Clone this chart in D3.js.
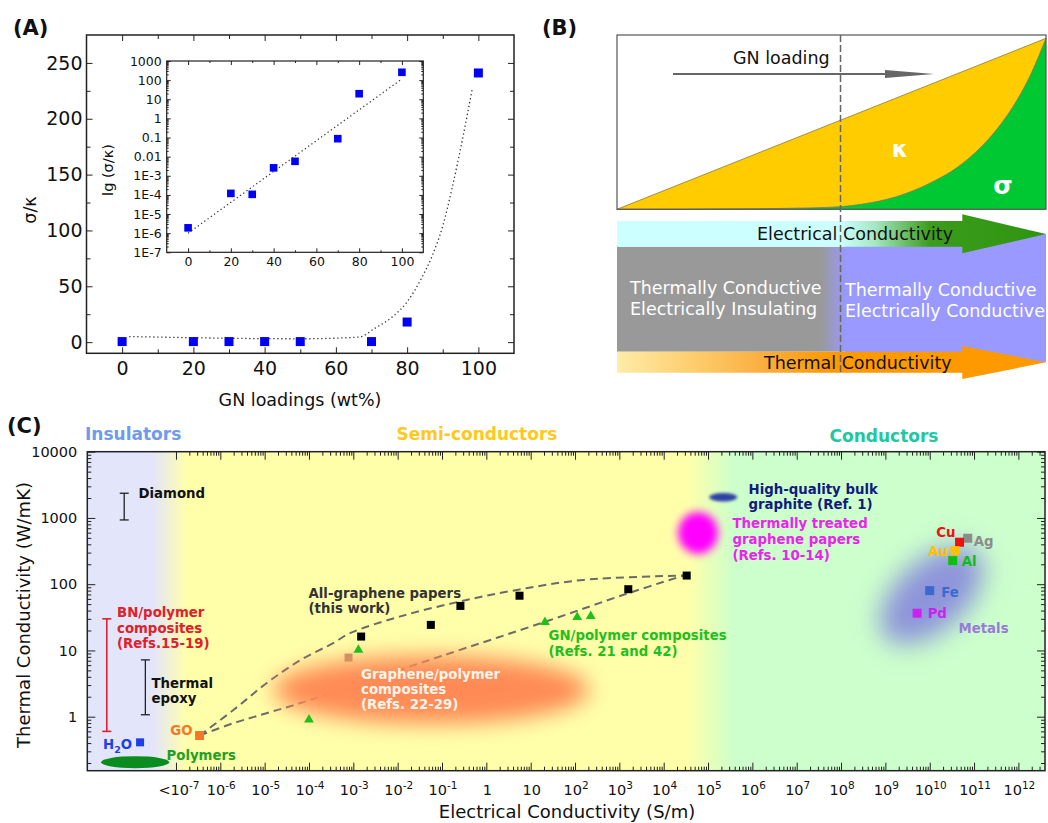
<!DOCTYPE html>
<html>
<head>
<meta charset="utf-8">
<script src="https://cdn.jsdelivr.net/npm/d3@7"></script>
<style>
  body { margin: 0; background: #fff; }
  svg { display: block; }
</style>
</head>
<body>
<svg id="fig" width="1048" height="823"></svg>
<script>
// ---------------- panel A data
const loadMain = [0, 20, 30, 40, 50, 70, 80, 100];
const ratioMain = [0.5, 0.5, 0.5, 0.5, 0.5, 0.5, 18, 241];
const fitMainX = [2, 50, 66.5, 71, 76, 80, 84, 87, 90, 92.7, 95.5, 98.3];
const fitMainY = [5, 3, 4.5, 12.5, 23, 36, 57, 77, 104, 139, 181, 227];
const mainXTicks = [0, 20, 40, 60, 80, 100];
const mainYTicks = [0, 50, 100, 150, 200, 250];

const loadInset = [0, 20, 30, 40, 50, 70, 80, 100];
const ratioInset = [1.9e-6, 1.2e-4, 1.07e-4, 2.6e-3, 5.7e-3, 0.087, 19.5, 257];
const fitInsetX = [0, 100];
const fitInsetY = [1e-6, 115];
const insetXTicks = [0, 20, 40, 60, 80, 100];
const insetYTicks = [1e-7, 1e-6, 1e-5, 1e-4, 1e-3, 1e-2, 1e-1, 1, 10, 100, 1000];
const insetYLabels = ["1E-7", "1E-6", "1E-5", "1E-4", "1E-3", "0.01", "0.1", "1", "10", "100", "1000"];

// ---------------- panel B (schematic, loading normalised 0..1)
const kappaX = [0, 1];
const kappaY = [0, 0.981];
const sigmaX = [0, 0.3, 0.45, 0.521, 0.573, 0.651, 0.729, 0.806, 0.884, 0.923, 0.962, 1];
const sigmaY = [0, 0.003, 0.008, 0.015, 0.03, 0.072, 0.149, 0.264, 0.455, 0.589, 0.761, 0.981];
const thresholdX = 0.521;

// ---------------- panel C data  (sigma in S/m, kappa in W/mK)
const paperSigma = [1.5e-3, 0.056, 0.26, 5.6, 1590, 3.3e4];
const paperKappa = [16.2, 24.3, 47, 67, 84, 135];
const gnSigma = [1e-4, 1.3e-3, 21, 112, 226];
const gnKappa = [0.9, 10.2, 26.7, 31.8, 33];
const upperSigma = [3.4e-7, 2e-6, 1.1e-5, 6.3e-5, 3.5e-4, 8.4e-4, 1.1e-2, 0.25, 4.9, 154, 2.8e4];
const upperKappa = [0.52, 1.27, 3.2, 7.1, 12.9, 18.2, 32.4, 54.7, 82, 116, 135];
const lowerSigma = [3.4e-7, 2e-6, 1.1e-5, 6.3e-5, 2.4e-3, 0.09, 21, 1585, 2.8e4];
const lowerKappa = [0.52, 0.8, 1.13, 1.6, 3.6, 8.1, 27, 73, 135];
const metalNames = ["Ag", "Cu", "Au", "Al", "Fe", "Pd"];
const metalSigma = [7.2e10, 4.7e10, 3.7e10, 3.3e10, 1.0e10, 5.2e9];
const metalKappa = [494, 430, 321, 227, 80, 36.5];
const barNames = ["Diamond", "BN", "Epoxy"];
const barSigma = [6.8e-9, 2.75e-9, 2.04e-8];
const barLow = [933, 0.6, 1.07];
const barHigh = [2360, 30, 7.2];
const h2o = [1.55e-8, 0.41];
const go = [3.4e-7, 0.52];
const fadedSq = [7.8e-4, 7.8];
const polymerCentre = [1.2e-8, 0.206];
const blobNames = ["graphenePolymer", "treatedPaper", "bulkGraphite", "metals"];
const blobSigma = [0.0565, 5.96e4, 2.2e5, 1.1e10];
const blobKappa = [2.55, 594, 2050, 68];
const cDecades = [-7, -6, -5, -4, -3, -2, -1, 0, 1, 2, 3, 4, 5, 6, 7, 8, 9, 10, 11, 12];
const cYTicks = [1, 10, 100, 1000, 10000];

const FONT = "DejaVu Sans, Liberation Sans, sans-serif";
const svg = d3.select("#fig").attr("font-family", FONT);
const defs = svg.append("defs");

function grad(id, x1, x2, stops) {
  const g = defs.append("linearGradient").attr("id", id)
    .attr("gradientUnits", "userSpaceOnUse")
    .attr("x1", x1).attr("x2", x2).attr("y1", 0).attr("y2", 0);
  stops.forEach(s => g.append("stop").attr("offset", s[0]).attr("stop-color", s[1]));
}
function blur(id, sd) {
  defs.append("filter").attr("id", id)
    .attr("x", "-100%").attr("y", "-100%").attr("width", "300%").attr("height", "300%")
    .append("feGaussianBlur").attr("stdDeviation", sd);
}

// inward ticks on all four sides
function axes(g, x, y, w, h, c) {
  const none = () => "";
  const mk = (axis, tr, vals, len, fmt, pad) => {
    const a = g.append("g").attr("transform", tr)
      .call(axis.tickValues(vals).tickSize(-len).tickPadding(pad).tickFormat(fmt));
    a.select(".domain").remove();
    a.attr("font-family", FONT).attr("font-size", c.font);
    a.selectAll("text").attr("fill", "#111");
    a.selectAll("line").attr("stroke", "#222");
  };
  mk(d3.axisBottom(x), `translate(0,${h})`, c.xMajor, c.maj, c.xFmt || none, c.xPad || 0);
  mk(d3.axisBottom(x), `translate(0,${h})`, c.xMinor, c.min, none, 0);
  mk(d3.axisTop(x), "translate(0,0)", c.xMajor, c.maj, none, 0);
  mk(d3.axisTop(x), "translate(0,0)", c.xMinor, c.min, none, 0);
  mk(d3.axisLeft(y), "translate(0,0)", c.yMajor, c.maj, c.yFmt || none, c.yPad || 0);
  mk(d3.axisLeft(y), "translate(0,0)", c.yMinor, c.min, none, 0);
  mk(d3.axisRight(y), `translate(${w},0)`, c.yMajor, c.maj, none, 0);
  mk(d3.axisRight(y), `translate(${w},0)`, c.yMinor, c.min, none, 0);
  g.append("rect").attr("width", w).attr("height", h)
    .attr("fill", "none").attr("stroke", "#222").attr("stroke-width", c.frame || 1.3);
}

function label(g, x, y, str, size, opt) {
  opt = opt || {};
  return g.append("text").attr("x", x).attr("y", y)
    .attr("font-size", size)
    .attr("font-weight", opt.bold ? "bold" : null)
    .attr("fill", opt.fill || "#111")
    .attr("text-anchor", opt.anchor || "start")
    .text(str);
}

// =============== PANEL A ===============
label(svg, 13, 35, "(A)", 21, { bold: true });
{
  const w = 427.5, h = 318.3;
  const g = svg.append("g").attr("transform", "translate(86.5,35)");
  const x = d3.scaleLinear().domain([-10, 110]).range([0, w]);
  const y = d3.scaleLinear().domain([-10, 275]).range([h, 0]);
  axes(g, x, y, w, h, {
    xMajor: mainXTicks, xMinor: [10, 30, 50, 70, 90], yMajor: mainYTicks, yMinor: [25, 75, 125, 175, 225],
    maj: 6, min: 4, font: 19, xFmt: d => d, yFmt: d => d, xPad: 8, yPad: 4, frame: 1.5
  });
  g.append("path")
    .datum(fitMainX.map((v, i) => [v, fitMainY[i]]))
    .attr("d", d3.line().x(d => x(d[0])).y(d => y(d[1])).curve(d3.curveMonotoneX))
    .attr("fill", "none").attr("stroke", "#333").attr("stroke-width", 1.3)
    .attr("stroke-dasharray", "1.3,2.7");
  g.selectAll("rect.pt").data(loadMain).join("rect").attr("class", "pt")
    .attr("x", (d, i) => x(d) - 4.5).attr("y", (d, i) => y(ratioMain[i]) - 4.5)
    .attr("width", 9).attr("height", 9).attr("fill", "#0000F5");

  label(svg, 300, 406, "GN loadings (wt%)", 17.5, { anchor: "middle" });
  label(svg, 0, 0, "σ/κ", 17.5, { anchor: "middle" })
    .attr("transform", "translate(36,210) rotate(-90)");

  // inset
  const iw = 256.6, ih = 191.3;
  const gi = svg.append("g").attr("transform", "translate(166.7,61)");
  gi.append("rect").attr("width", iw).attr("height", ih).attr("fill", "#fff");
  const xi = d3.scaleLinear().domain([-10, 110]).range([0, iw]);
  const yi = d3.scaleLog().domain([1e-7, 1000]).range([ih, 0]);
  const yMinor = [];
  for (let p = -7; p < 3; p++) for (let k = 2; k < 10; k++) yMinor.push(k * Math.pow(10, p));
  axes(gi, xi, yi, iw, ih, {
    xMajor: insetXTicks, xMinor: [10, 30, 50, 70, 90], yMajor: insetYTicks, yMinor: yMinor,
    maj: 4, min: 2, font: 12.5, xFmt: d => d, yFmt: d => insetYLabels[insetYTicks.indexOf(d)],
    xPad: 5, yPad: 5, frame: 1.2
  });
  gi.append("path")
    .datum(fitInsetX.map((v, i) => [v, fitInsetY[i]]))
    .attr("d", d3.line().x(d => xi(d[0])).y(d => yi(d[1])))
    .attr("fill", "none").attr("stroke", "#333").attr("stroke-width", 1.2)
    .attr("stroke-dasharray", "1.3,2.7");
  gi.selectAll("rect.pt").data(loadInset).join("rect").attr("class", "pt")
    .attr("x", d => xi(d) - 3.8).attr("y", (d, i) => yi(ratioInset[i]) - 3.8)
    .attr("width", 7.6).attr("height", 7.6).attr("fill", "#0000F5");
  label(svg, 0, 0, "lg (σ/κ)", 14.5, { anchor: "middle" })
    .attr("transform", "translate(113,170) rotate(-90)");
}

// =============== PANEL B ===============
label(svg, 542, 35, "(B)", 21, { bold: true });
{
  const L = 617, R = 1046, T = 35, B = 209.3;
  const xb = d3.scaleLinear().domain([0, 1]).range([L, R]);
  const yb = d3.scaleLinear().domain([0, 1]).range([B, T]);
  svg.append("rect").attr("x", L).attr("y", T).attr("width", R - L).attr("height", B - T).attr("fill", "#fff");
  const kap = kappaX.map((v, i) => [v, kappaY[i]]);
  const sig = sigmaX.map((v, i) => [v, sigmaY[i]]);
  const area = d3.area().x(d => xb(d[0])).y0(yb(0)).y1(d => yb(d[1]));
  svg.append("path").datum(kap).attr("d", area).attr("fill", "#FFCC00");
  svg.append("path").datum(sig).attr("d", area.curve(d3.curveMonotoneX)).attr("fill", "#00C832");
  const ln = d3.line().x(d => xb(d[0])).y(d => yb(d[1]));
  svg.append("path").datum(kap).attr("d", ln).attr("fill", "none").attr("stroke", "#8a7a40").attr("stroke-width", 0.8);
  svg.append("path").datum(sig).attr("d", ln.curve(d3.curveMonotoneX)).attr("fill", "none").attr("stroke", "#777").attr("stroke-width", 0.8);
  svg.append("rect").attr("x", L).attr("y", T).attr("width", R - L).attr("height", B - T)
    .attr("fill", "none").attr("stroke", "#555").attr("stroke-width", 1.2);

  label(svg, 733, 64, "GN loading", 17.5, {});
  svg.append("line").attr("x1", 673).attr("x2", 890).attr("y1", 74).attr("y2", 74)
    .attr("stroke", "#666").attr("stroke-width", 2);
  svg.append("path").attr("d", "M885,70 L934,74 L885,78 Z").attr("fill", "#666");
  label(svg, 900, 157, "κ", 23, { bold: true, fill: "#fff", anchor: "middle" });
  label(svg, 1003, 194, "σ", 25, { bold: true, fill: "#fff", anchor: "middle" });

  // lower schematic
  grad("elecG", L, R, [[0, "#CCFFFF"], [0.52, "#CCFFFF"], [0.6, "#A6E8C4"], [0.73, "#3C9C1C"], [1, "#2E9410"]]);
  grad("boxG", L, R, [[0, "#999999"], [0.475, "#999999"], [0.535, "#9999FF"], [1, "#9999FF"]]);
  grad("thermG", L, R, [[0, "#FFECA8"], [0.19, "#FDCB6A"], [0.34, "#FAAE3E"], [0.5, "#FF9900"], [1, "#FF9900"]]);
  const ax = 962.3;
  svg.append("rect").attr("x", 845).attr("y", 234).attr("width", R - 845).attr("height", 128).attr("fill", "#9999FF");
  svg.append("rect").attr("x", L).attr("y", 246.7).attr("width", R - L).attr("height", 105).attr("fill", "url(#boxG)");
  svg.append("path").attr("d", `M${L},221 L${ax},221 L${ax},214.3 L${R},234 L${ax},253.3 L${ax},246.7 L${L},246.7 Z`)
    .attr("fill", "url(#elecG)");
  svg.append("path").attr("d", `M${L},351.7 L${ax},351.7 L${ax},346 L${R},362.3 L${ax},379 L${ax},372.7 L${L},372.7 Z`)
    .attr("fill", "url(#thermG)");
  label(svg, 757, 240, "Electrical Conductivity", 17.5, {});
  label(svg, 764, 368.5, "Thermal Conductivity", 17.5, {});
  label(svg, 630, 294, "Thermally Conductive", 17.5, { fill: "#fff" });
  label(svg, 630, 315, "Electrically Insulating", 17.5, { fill: "#fff" });
  label(svg, 845, 296, "Thermally Conductive", 17.5, { fill: "#fff" });
  label(svg, 845, 317, "Electrically Conductive", 17.5, { fill: "#fff" });

  svg.append("line").attr("x1", xb(thresholdX)).attr("x2", xb(thresholdX)).attr("y1", T).attr("y2", 375)
    .attr("stroke", "#666").attr("stroke-width", 1.5).attr("stroke-dasharray", "7,3");
}

// =============== PANEL C ===============
label(svg, 7, 433, "(C)", 21, { bold: true });
{
  const ox = 87.3, oy = 451.7, w = 957.7, h = 319;
  const g = svg.append("g").attr("transform", `translate(${ox},${oy})`);
  const x = d3.scaleLog().domain([1e-9, Math.pow(10, 12.6)]).range([0, w]);
  const y = d3.scaleLog().domain([0.153, 10000]).range([h, 0]);
  const px = v => ox + x(v);

  grad("cbg", 0, w, [
    [(153 - ox) / w, "#E3E5FA"], [(187 - ox) / w, "#FFFFAA"],
    [(688 - ox) / w, "#FFFFAA"], [(735 - ox) / w, "#CCFFCC"], [1, "#CCFFCC"]
  ]);
  g.append("rect").attr("width", w).attr("height", h).attr("fill", "url(#cbg)");

  const xMajor = cDecades.map(p => Math.pow(10, p));
  const xMinor = [];
  cDecades.forEach(p => { for (let k = 2; k < 10; k++) { const v = k * Math.pow(10, p); if (v < x.domain()[1]) xMinor.push(v); } });
  const yMinor = [];
  for (let p = -1; p < 4; p++) for (let k = 2; k < 10; k++) { const v = k * Math.pow(10, p); if (v > 0.153) yMinor.push(v); }

  blur("bBig", 11); blur("bMid", 4.5); blur("bSmall", 1.6); blur("bMetal", 13);

  // dashed guide curves
  const dl = d3.line().x(d => x(d[0])).y(d => y(d[1])).curve(d3.curveCatmullRom.alpha(0.5));
  [[upperSigma, upperKappa], [lowerSigma, lowerKappa]].forEach(([sx, ky]) => {
    g.append("path").datum(sx.map((v, i) => [v, ky[i]])).attr("d", dl)
      .attr("fill", "none").attr("stroke", "#6a6a6a").attr("stroke-width", 2).attr("stroke-dasharray", "8,5");
  });

  g.append("rect").attr("x", x(fadedSq[0]) - 4).attr("y", y(fadedSq[1]) - 4).attr("width", 8).attr("height", 8)
    .attr("fill", "#A06E58").attr("opacity", 0.75);

  // blobs
  const bx = i => x(blobSigma[i]), by = i => y(blobKappa[i]);
  g.append("ellipse").attr("cx", bx(0)).attr("cy", by(0)).attr("rx", 158).attr("ry", 34)
    .attr("fill", "#FF8A55").attr("filter", "url(#bBig)");
  g.append("ellipse").attr("cx", bx(1)).attr("cy", by(1)).attr("rx", 20).attr("ry", 21)
    .attr("fill", "#FF00FF").attr("filter", "url(#bMid)");
  g.append("ellipse").attr("cx", bx(2)).attr("cy", by(2)).attr("rx", 14).attr("ry", 4.2)
    .attr("fill", "#2F3FA6").attr("filter", "url(#bSmall)");
  g.append("ellipse").attr("cx", 0).attr("cy", 0).attr("rx", 62).attr("ry", 35)
    .attr("transform", `translate(${bx(3)},${by(3)}) rotate(-42)`)
    .attr("fill", "#8E94DA").attr("filter", "url(#bMetal)");

  // polymers ellipse
  g.append("ellipse").attr("cx", x(polymerCentre[0])).attr("cy", y(polymerCentre[1])).attr("rx", 34).attr("ry", 6)
    .attr("fill", "#0A8C1E");

  // error bars
  const barCol = ["#222", "#E0202A", "#222"];
  barNames.forEach((n, i) => {
    const bxp = x(barSigma[i]);
    const gb = g.append("g").attr("stroke", barCol[i]).attr("stroke-width", i === 1 ? 1.6 : 1.3);
    gb.append("line").attr("x1", bxp).attr("x2", bxp).attr("y1", y(barLow[i])).attr("y2", y(barHigh[i]));
    [barLow[i], barHigh[i]].forEach(v => gb.append("line").attr("x1", bxp - 4.5).attr("x2", bxp + 4.5).attr("y1", y(v)).attr("y2", y(v)));
  });

  // markers
  g.append("rect").attr("x", x(h2o[0]) - 4).attr("y", y(h2o[1]) - 4).attr("width", 8).attr("height", 8).attr("fill", "#1E40E8");
  g.append("rect").attr("x", x(go[0]) - 4.5).attr("y", y(go[1]) - 4.5).attr("width", 9).attr("height", 9).attr("fill", "#F5782A");
  const tri = d3.symbol().type(d3.symbolTriangle).size(42);
  g.selectAll("path.tri").data(gnSigma).join("path").attr("class", "tri")
    .attr("d", tri).attr("transform", (d, i) => `translate(${x(d)},${y(gnKappa[i])})`).attr("fill", "#1FBF1F");
  g.selectAll("rect.pap").data(paperSigma).join("rect").attr("class", "pap")
    .attr("x", d => x(d) - 4).attr("y", (d, i) => y(paperKappa[i]) - 4).attr("width", 8).attr("height", 8).attr("fill", "#000");

  const metalCol = { Ag: "#8C8C8C", Cu: "#F01010", Au: "#FFC000", Al: "#10BE10", Fe: "#3A6AD0", Pd: "#CC22F0" };
  const metalLab = { Ag: [6, 7.5, "start"], Cu: [-4, -5.5, "end"], Au: [-7, 5.5, "end"], Al: [9, 5.5, "start"], Fe: [11.5, 6, "start"], Pd: [10.5, 5, "start"] };
  metalNames.forEach((n, i) => {
    const mx = x(metalSigma[i]), my = y(metalKappa[i]);
    g.append("rect").attr("x", mx - 4.5).attr("y", my - 4.5).attr("width", 9).attr("height", 9).attr("fill", metalCol[n]);
  });
  metalNames.forEach((n, i) => {
    const mx = x(metalSigma[i]), my = y(metalKappa[i]);
    const l = metalLab[n];
    label(g, mx + l[0], my + l[1], n, 13.3, { bold: true, fill: metalCol[n], anchor: l[2] });
  });

  axes(g, x, y, w, h, {
    xMajor: xMajor, xMinor: xMinor, yMajor: cYTicks, yMinor: yMinor,
    maj: 8, min: 4, font: 14.5, yFmt: d => d, yPad: 10, frame: 1.5
  });

  // x tick labels with superscripts
  const xl = svg.append("g").attr("font-size", 14.5).attr("fill", "#111").attr("text-anchor", "middle");
  cDecades.forEach(p => {
    const t = xl.append("text").attr("x", px(Math.pow(10, p)) + (p === -7 ? 3 : 1)).attr("y", 795);
    if (p === 0) t.text("1");
    else if (p === 1) t.text("10");
    else {
      t.append("tspan").text(p === -7 ? "<10" : "10");
      t.append("tspan").attr("font-size", 10.5).attr("dy", -6.5).text(String(p));
    }
  });

  // titles
  label(svg, 567, 818, "Electrical Conductivity (S/m)", 18, { anchor: "middle" });
  label(svg, 0, 0, "Thermal Conductivity (W/mK)", 18, { anchor: "middle" })
    .attr("transform", "translate(30,615) rotate(-90)");
  label(svg, 85, 440, "Insulators", 17, { bold: true, fill: "#6E9BEE" });
  label(svg, 477, 440, "Semi-conductors", 17, { bold: true, fill: "#FFC81E", anchor: "middle" });
  label(svg, 884, 442, "Conductors", 17, { bold: true, fill: "#1EC8A0", anchor: "middle" });

  // annotations
  const A = 13.3;
  label(svg, 138.5, 498, "Diamond", A, { bold: true });
  label(svg, 117, 617, "BN/polymer", A, { bold: true, fill: "#E0202A" });
  label(svg, 117, 632.5, "composites", A, { bold: true, fill: "#E0202A" });
  label(svg, 117, 648, "(Refs.15-19)", A, { bold: true, fill: "#E0202A" });
  label(svg, 151.5, 688, "Thermal", A, { bold: true });
  label(svg, 151.5, 703, "epoxy", A, { bold: true });
  const ht = label(svg, 103, 748.5, "H", A, { bold: true, fill: "#1E40E8" });
  ht.append("tspan").attr("font-size", 9.5).attr("dy", 4).text("2");
  ht.append("tspan").attr("dy", -4).text("O");
  label(svg, 192.5, 735, "GO", A, { bold: true, fill: "#F5782A", anchor: "end" });
  label(svg, 166.5, 759.5, "Polymers", A, { bold: true, fill: "#22A022" });
  label(svg, 308.5, 597.5, "All-graphene papers", A, { bold: true, fill: "#333" });
  label(svg, 308.5, 613, "(this work)", A, { bold: true, fill: "#333" });
  label(svg, 361, 678.5, "Graphene/polymer", A, { bold: true, fill: "#FFF4EC" });
  label(svg, 361, 693.5, "composites", A, { bold: true, fill: "#FFF4EC" });
  label(svg, 361, 709, "(Refs. 22-29)", A, { bold: true, fill: "#FFF4EC" });
  label(svg, 548.5, 640, "GN/polymer composites", A, { bold: true, fill: "#1FBF1F" });
  label(svg, 548.5, 656, "(Refs. 21 and 42)", A, { bold: true, fill: "#1FBF1F" });
  label(svg, 748.5, 493.5, "High-quality bulk", A, { bold: true, fill: "#121A80" });
  label(svg, 748.5, 508.5, "graphite (Ref. 1)", A, { bold: true, fill: "#121A80" });
  label(svg, 732.5, 527.5, "Thermally treated", A, { bold: true, fill: "#EE22EE" });
  label(svg, 732.5, 543.5, "graphene papers", A, { bold: true, fill: "#EE22EE" });
  label(svg, 732.5, 559.5, "(Refs. 10-14)", A, { bold: true, fill: "#EE22EE" });
  label(svg, 958.5, 633, "Metals", A, { bold: true, fill: "#9A7AD8" });
}
</script>
</body>
</html>
